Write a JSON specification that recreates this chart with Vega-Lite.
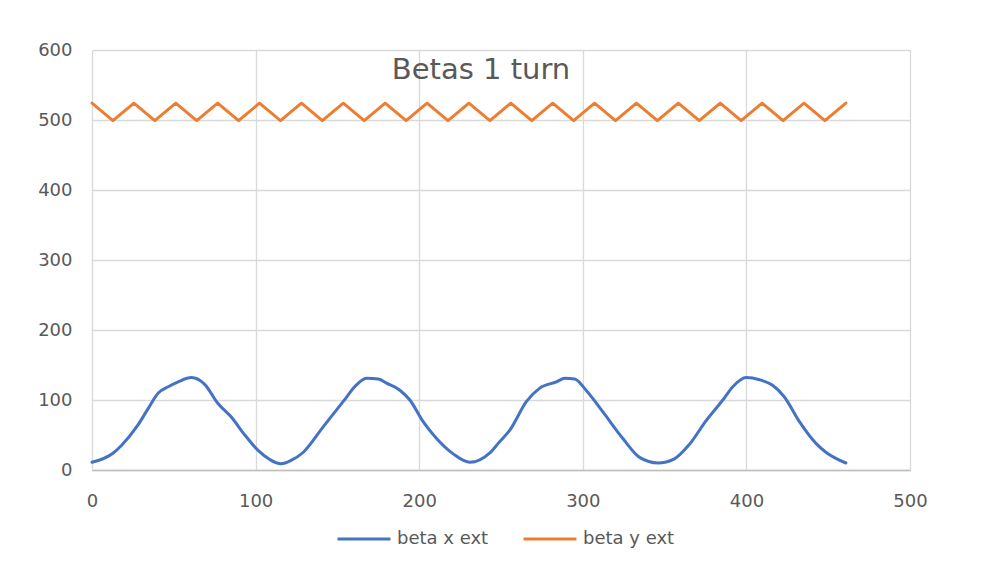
{
  "$schema": "https://vega.github.io/schema/vega-lite/v6.json",
  "width": 818,
  "height": 420,
  "autosize": {"type": "none"},
  "padding": {"left": 92, "top": 50, "right": 82, "bottom": 105},
  "background": "white",
  "title": {
    "text": "Betas 1 turn",
    "frame": "group",
    "anchor": "middle",
    "offset": -30,
    "baseline": "alphabetic",
    "dx": -20,
    "dy": 37,
    "font": "DejaVu Sans",
    "fontSize": 29,
    "fontWeight": "normal",
    "color": "#595959"
  },
  "data": {
    "values": [
      {"pos": 0, "beta": 11, "series": "beta x ext"},
      {"pos": 12.8, "beta": 24, "series": "beta x ext"},
      {"pos": 18, "beta": 35, "series": "beta x ext"},
      {"pos": 28, "beta": 64, "series": "beta x ext"},
      {"pos": 34.4, "beta": 88, "series": "beta x ext"},
      {"pos": 40.5, "beta": 110, "series": "beta x ext"},
      {"pos": 46.6, "beta": 119, "series": "beta x ext"},
      {"pos": 52.7, "beta": 126, "series": "beta x ext"},
      {"pos": 60.8, "beta": 132, "series": "beta x ext"},
      {"pos": 69, "beta": 122, "series": "beta x ext"},
      {"pos": 77, "beta": 95, "series": "beta x ext"},
      {"pos": 85, "beta": 76, "series": "beta x ext"},
      {"pos": 93.4, "beta": 50, "series": "beta x ext"},
      {"pos": 101.5, "beta": 28, "series": "beta x ext"},
      {"pos": 108.7, "beta": 15, "series": "beta x ext"},
      {"pos": 115.4, "beta": 9, "series": "beta x ext"},
      {"pos": 121.9, "beta": 14, "series": "beta x ext"},
      {"pos": 129, "beta": 25, "series": "beta x ext"},
      {"pos": 141.4, "beta": 62, "series": "beta x ext"},
      {"pos": 153.6, "beta": 98, "series": "beta x ext"},
      {"pos": 161.8, "beta": 122, "series": "beta x ext"},
      {"pos": 167.9, "beta": 131, "series": "beta x ext"},
      {"pos": 175, "beta": 130, "series": "beta x ext"},
      {"pos": 180, "beta": 124, "series": "beta x ext"},
      {"pos": 188.2, "beta": 114, "series": "beta x ext"},
      {"pos": 194.3, "beta": 100, "series": "beta x ext"},
      {"pos": 202.4, "beta": 69, "series": "beta x ext"},
      {"pos": 210.6, "beta": 45, "series": "beta x ext"},
      {"pos": 220.8, "beta": 23, "series": "beta x ext"},
      {"pos": 231, "beta": 11, "series": "beta x ext"},
      {"pos": 243, "beta": 24, "series": "beta x ext"},
      {"pos": 249, "beta": 40, "series": "beta x ext"},
      {"pos": 255.4, "beta": 57, "series": "beta x ext"},
      {"pos": 265.6, "beta": 98, "series": "beta x ext"},
      {"pos": 273.7, "beta": 117, "series": "beta x ext"},
      {"pos": 283.9, "beta": 126, "series": "beta x ext"},
      {"pos": 289, "beta": 131, "series": "beta x ext"},
      {"pos": 295, "beta": 130, "series": "beta x ext"},
      {"pos": 302, "beta": 114, "series": "beta x ext"},
      {"pos": 312.3, "beta": 83, "series": "beta x ext"},
      {"pos": 324.5, "beta": 45, "series": "beta x ext"},
      {"pos": 334.7, "beta": 18, "series": "beta x ext"},
      {"pos": 345.9, "beta": 10, "series": "beta x ext"},
      {"pos": 356, "beta": 16, "series": "beta x ext"},
      {"pos": 365.3, "beta": 37, "series": "beta x ext"},
      {"pos": 375.5, "beta": 71, "series": "beta x ext"},
      {"pos": 385.6, "beta": 100, "series": "beta x ext"},
      {"pos": 391.7, "beta": 119, "series": "beta x ext"},
      {"pos": 399.9, "beta": 132, "series": "beta x ext"},
      {"pos": 408, "beta": 129, "series": "beta x ext"},
      {"pos": 416, "beta": 121, "series": "beta x ext"},
      {"pos": 423, "beta": 105, "series": "beta x ext"},
      {"pos": 432.4, "beta": 69, "series": "beta x ext"},
      {"pos": 442.5, "beta": 38, "series": "beta x ext"},
      {"pos": 448.8, "beta": 25, "series": "beta x ext"},
      {"pos": 460.8, "beta": 10, "series": "beta x ext"},
      {"pos": 0, "beta": 524, "series": "beta y ext"},
      {"pos": 12.8, "beta": 499, "series": "beta y ext"},
      {"pos": 25.6, "beta": 524, "series": "beta y ext"},
      {"pos": 38.4, "beta": 499, "series": "beta y ext"},
      {"pos": 51.2, "beta": 524, "series": "beta y ext"},
      {"pos": 64, "beta": 499, "series": "beta y ext"},
      {"pos": 76.8, "beta": 524, "series": "beta y ext"},
      {"pos": 89.6, "beta": 499, "series": "beta y ext"},
      {"pos": 102.4, "beta": 524, "series": "beta y ext"},
      {"pos": 115.2, "beta": 499, "series": "beta y ext"},
      {"pos": 128, "beta": 524, "series": "beta y ext"},
      {"pos": 140.8, "beta": 499, "series": "beta y ext"},
      {"pos": 153.6, "beta": 524, "series": "beta y ext"},
      {"pos": 166.4, "beta": 499, "series": "beta y ext"},
      {"pos": 179.2, "beta": 524, "series": "beta y ext"},
      {"pos": 192, "beta": 499, "series": "beta y ext"},
      {"pos": 204.8, "beta": 524, "series": "beta y ext"},
      {"pos": 217.6, "beta": 499, "series": "beta y ext"},
      {"pos": 230.4, "beta": 524, "series": "beta y ext"},
      {"pos": 243.2, "beta": 499, "series": "beta y ext"},
      {"pos": 256, "beta": 524, "series": "beta y ext"},
      {"pos": 268.8, "beta": 499, "series": "beta y ext"},
      {"pos": 281.6, "beta": 524, "series": "beta y ext"},
      {"pos": 294.4, "beta": 499, "series": "beta y ext"},
      {"pos": 307.2, "beta": 524, "series": "beta y ext"},
      {"pos": 320, "beta": 499, "series": "beta y ext"},
      {"pos": 332.8, "beta": 524, "series": "beta y ext"},
      {"pos": 345.6, "beta": 499, "series": "beta y ext"},
      {"pos": 358.4, "beta": 524, "series": "beta y ext"},
      {"pos": 371.2, "beta": 499, "series": "beta y ext"},
      {"pos": 384, "beta": 524, "series": "beta y ext"},
      {"pos": 396.8, "beta": 499, "series": "beta y ext"},
      {"pos": 409.6, "beta": 524, "series": "beta y ext"},
      {"pos": 422.4, "beta": 499, "series": "beta y ext"},
      {"pos": 435.2, "beta": 524, "series": "beta y ext"},
      {"pos": 448, "beta": 499, "series": "beta y ext"},
      {"pos": 460.8, "beta": 524, "series": "beta y ext"}
    ]
  },
  "encoding": {
    "x": {
      "field": "pos",
      "type": "quantitative",
      "scale": {"domain": [0, 500], "nice": false},
      "axis": {
        "title": null,
        "values": [0, 100, 200, 300, 400, 500],
        "grid": true,
        "gridColor": "#d9d9d9",
        "gridWidth": 1.3,
        "domain": true,
        "domainColor": "#bfbfbf",
        "domainWidth": 1.5,
        "ticks": false,
        "labelPadding": 22,
        "labelFont": "DejaVu Sans",
        "labelFontSize": 18,
        "labelColor": "#595959",
        "labelFlush": false
      }
    },
    "y": {
      "field": "beta",
      "type": "quantitative",
      "scale": {"domain": [0, 600], "nice": false, "zero": true},
      "axis": {
        "title": null,
        "values": [0, 100, 200, 300, 400, 500, 600],
        "grid": true,
        "gridColor": "#d9d9d9",
        "gridWidth": 1.3,
        "domain": false,
        "ticks": false,
        "labelPadding": 20,
        "labelFont": "DejaVu Sans",
        "labelFontSize": 18,
        "labelColor": "#595959"
      }
    },
    "color": {
      "field": "series",
      "type": "nominal",
      "scale": {"domain": ["beta x ext", "beta y ext"], "range": ["#4472C4", "#ED7D31"]},
      "legend": {
        "title": null,
        "orient": "none",
        "legendX": 244,
        "legendY": 461,
        "direction": "horizontal",
        "symbolType": "stroke",
        "symbolSize": 2800,
        "symbolStrokeWidth": 3,
        "labelFont": "DejaVu Sans",
        "labelFontSize": 18,
        "labelColor": "#595959",
        "labelOffset": 5,
        "columnPadding": 28
      }
    }
  },
  "layer": [
    {
      "transform": [{"filter": "datum.series === 'beta x ext'"}],
      "mark": {"type": "line", "strokeWidth": 3, "strokeCap": "round", "strokeJoin": "round", "interpolate": "monotone"}
    },
    {
      "transform": [{"filter": "datum.series === 'beta y ext'"}],
      "mark": {"type": "line", "strokeWidth": 3, "strokeCap": "round", "strokeJoin": "round"}
    }
  ],
  "config": {"view": {"stroke": null}}
}
